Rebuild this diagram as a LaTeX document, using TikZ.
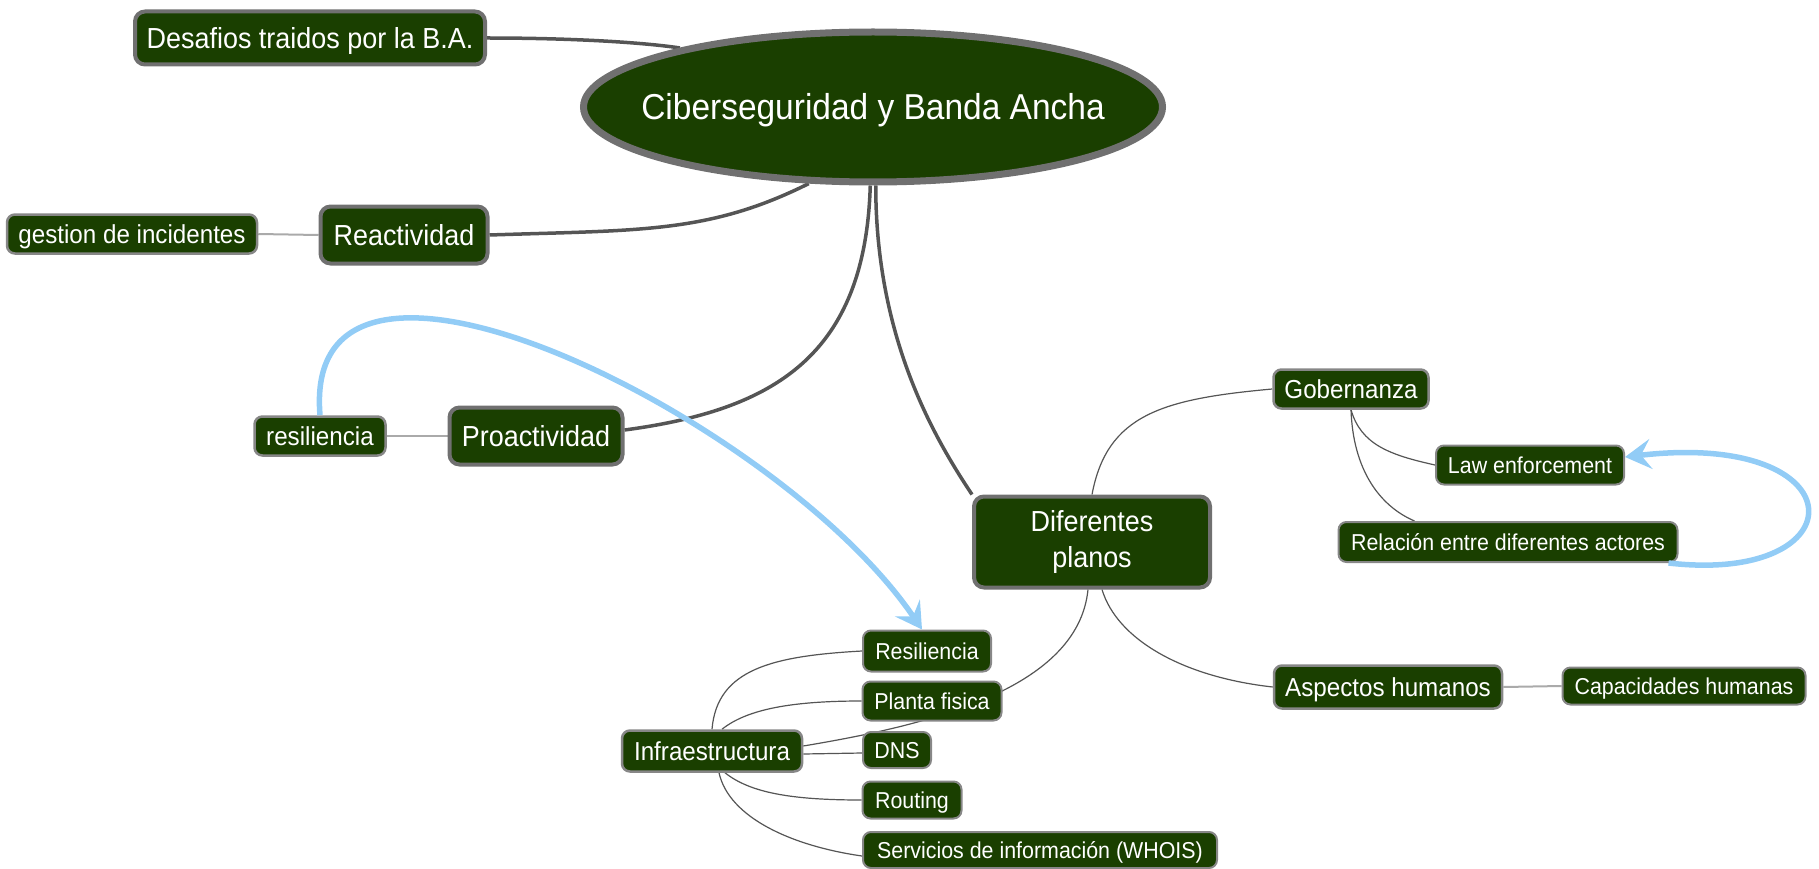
\documentclass[tikz,border=0pt]{standalone}
\usepackage{fontspec}
\setmainfont{Liberation Sans}[FakeStretch=0.93]
\usetikzlibrary{shapes.geometric,arrows.meta,backgrounds}
\definecolor{nodegreen}{RGB}{26,63,0}
\definecolor{bordergrey}{RGB}{112,112,112}
\definecolor{thingrey}{RGB}{135,135,135}
\definecolor{linkgrey}{RGB}{85,85,85}
\definecolor{lightlink}{RGB}{170,170,170}
\definecolor{skyblue}{RGB}{146,204,246}
\begin{document}
\begin{tikzpicture}[x=1pt,y=-1pt,
 box/.style={rectangle, fill=nodegreen, text=white, inner sep=0pt},
 lvlone/.style={box, rounded corners=10pt, draw=bordergrey, line width=4pt, font=\fontsize{29}{36}\selectfont},
 thone/.style={text height=20.8pt, text depth=0pt},
 lvltwo/.style={box, text height=18.6pt, text depth=0pt, draw=thingrey, line width=2.5pt, font=\fontsize{26}{30}\selectfont, rounded corners=8pt},
 lvlthree/.style={box, text height=16.5pt, text depth=0pt, draw=thingrey, line width=2pt, font=\fontsize{23}{27}\selectfont, rounded corners=8pt},
 mainlink/.style={draw=linkgrey, line width=3.5pt},
 sublink/.style={draw=linkgrey, line width=1.2pt},
 flatlink/.style={draw=lightlink, line width=2pt},
 bluelink/.style={draw=skyblue, line width=5.5pt, -{Stealth[length=26pt,width=30pt,inset=10pt]}},
]
\useasboundingbox (0,0) rectangle (1819,869);

% central topic
\node[ellipse, fill=nodegreen, draw=bordergrey, line width=7pt, minimum width=579pt, minimum height=150pt, inner sep=0pt] (E) at (873,107) {};
\node[text=white, inner sep=0pt, text height=25.8pt, text depth=0pt, font=\fontsize{36}{40}\selectfont] (Etxt) at (E.center) {Ciberseguridad y Banda Ancha};

% level one
\node[lvlone, thone, minimum width=350pt, minimum height=53pt] (des) at (310,38) {Desafios traidos por la B.A.};
\node[lvlone, thone, minimum width=167pt, minimum height=57pt] (rea) at (404,235) {Reactividad};
\node[lvlone, thone, minimum width=173pt, minimum height=57pt] (pro) at (536,436) {Proactividad};
\node[lvlone, align=center, minimum width=236pt, minimum height=91pt] (dif) at (1092,542) {Diferentes\\planos};

% level two
\node[lvltwo, minimum width=250pt, minimum height=39pt] (ges) at (132,234) {gestion de incidentes};
\node[lvltwo, minimum width=131pt, minimum height=39pt] (res) at (320,436) {resiliencia};
\node[lvltwo, minimum width=155pt, minimum height=39pt] (gob) at (1351,389) {Gobernanza};
\node[lvltwo, minimum width=228pt, minimum height=43pt] (asp) at (1388,687) {Aspectos humanos};
\node[lvltwo, minimum width=180pt, minimum height=41pt] (inf) at (712,751) {Infraestructura};

% level three
\node[lvlthree, minimum width=188pt, minimum height=39pt] (law) at (1530,465) {Law enforcement};
\node[lvlthree, minimum width=339pt, minimum height=40pt] (rel) at (1508,542) {Relación entre diferentes actores};
\node[lvlthree, minimum width=243pt, minimum height=37pt] (cap) at (1684,686) {Capacidades humanas};
\node[lvlthree, minimum width=128pt, minimum height=41pt] (resil) at (927,651) {Resiliencia};
\node[lvlthree, minimum width=139pt, minimum height=39pt] (pla) at (932,701) {Planta fisica};
\node[lvlthree, minimum width=68pt, minimum height=36pt] (dns) at (897,750) {DNS};
\node[lvlthree, minimum width=99pt, minimum height=37pt] (rou) at (912,800) {Routing};
\node[lvlthree, minimum width=354pt, minimum height=36pt] (ser) at (1040,850) {Servicios de información (WHOIS)};

\begin{scope}[on background layer]
  \path[mainlink] (des.east) .. controls +(80,0) and +(-40,-6) .. (E.163);
  \path[mainlink] (E.230) .. controls +(-100,50) and +(150,-5) .. (rea.east);
  \path[mainlink] (E.268) .. controls +(-5,170) and +(150,-20) .. ([yshift=6pt]pro.east);
  \path[mainlink] (E.272) .. controls +(0,150) and +(-40,-60) .. (dif.north west);
  \path[flatlink] (ges.east) -- (rea.west);
  \path[flatlink] (res.east) -- (pro.west);
  \path[flatlink] (asp.east) -- (cap.west);
  \path[sublink] (dif.north) .. controls +(15,-80) and +(-110,10) .. (gob.west);
  \path[sublink] (gob.south) .. controls +(10,35) and +(-45,-10) .. (law.west);
  \path[sublink] (gob.south) .. controls +(2,60) and +(-35,-15) .. ([xshift=77pt]rel.north west);
  \path[sublink] ([xshift=10pt]dif.south) .. controls +(15,50) and +(-90,-10) .. (asp.west);
  \path[sublink] ([xshift=-4pt]dif.south) .. controls +(-10,101) and +(120,-20) .. ([yshift=5pt]inf.east);
  \path[sublink] (inf.north) .. controls +(5,-60) and +(-90,5) .. (resil.west);
  \path[sublink] ([xshift=10pt]inf.north) .. controls +(25,-20) and +(-70,0) .. (pla.west);
  \path[sublink] ([yshift=-3pt]inf.east) -- ([yshift=-3pt]dns.west);
  \path[sublink] ([xshift=13pt]inf.south) .. controls +(25,20) and +(-70,0) .. (rou.west);
  \path[sublink] ([xshift=7pt]inf.south) .. controls +(10,45) and +(-70,-10) .. ([yshift=-6pt]ser.west);
\end{scope}

\path[bluelink] (res.north) .. controls (300,180) and (780,420) .. ([xshift=-5pt]resil.north);
\path[bluelink] ([xshift=-10pt]rel.south east) .. controls (1860,585) and (1860,430) .. ([yshift=8pt]law.east);
\end{tikzpicture}
\end{document}
